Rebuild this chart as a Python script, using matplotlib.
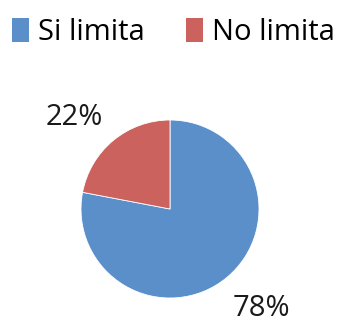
import matplotlib.pyplot as plt
from matplotlib.patches import Patch

labels = ["Si limita", "No limita"]
values = [78, 22]
colors = ["#5B8FC9", "#CC625D"]

plt.rcParams['font.family'] = ['Open Sans', 'DejaVu Sans']

fig = plt.figure(figsize=(3.4, 3.27), dpi=100)
# pie axes: center ~ (170, 209) px, radius ~ 89 px
r = 89
ax = fig.add_axes([(170 - r) / 340, (327 - 209 - r) / 327, 2 * r / 340, 2 * r / 327])
wedges, texts, autotexts = ax.pie(values, colors=colors, startangle=90, counterclock=False,
                                  autopct='%d%%', pctdistance=1.5,
                                  wedgeprops=dict(edgecolor='white', linewidth=0.6),
                                  textprops=dict(fontsize=21, color='#1a1a1a'))
# label spots as in the original (outside the wedges)
autotexts[0].set_position((1.03, -1.12))
autotexts[1].set_position((-1.07, 1.03))
ax.set_xlim(-1, 1)
ax.set_ylim(-1, 1)
ax.set_aspect('equal')

handles = [Patch(facecolor=c, edgecolor='none') for c in colors]
fig.legend(handles, labels, loc='upper center', bbox_to_anchor=(0.51, 1.025), ncol=2,
           frameon=False, fontsize=21, handlelength=0.6, handleheight=0.85,
           handletextpad=0.3, columnspacing=1.4)

fig.savefig("out.png", dpi=100)
